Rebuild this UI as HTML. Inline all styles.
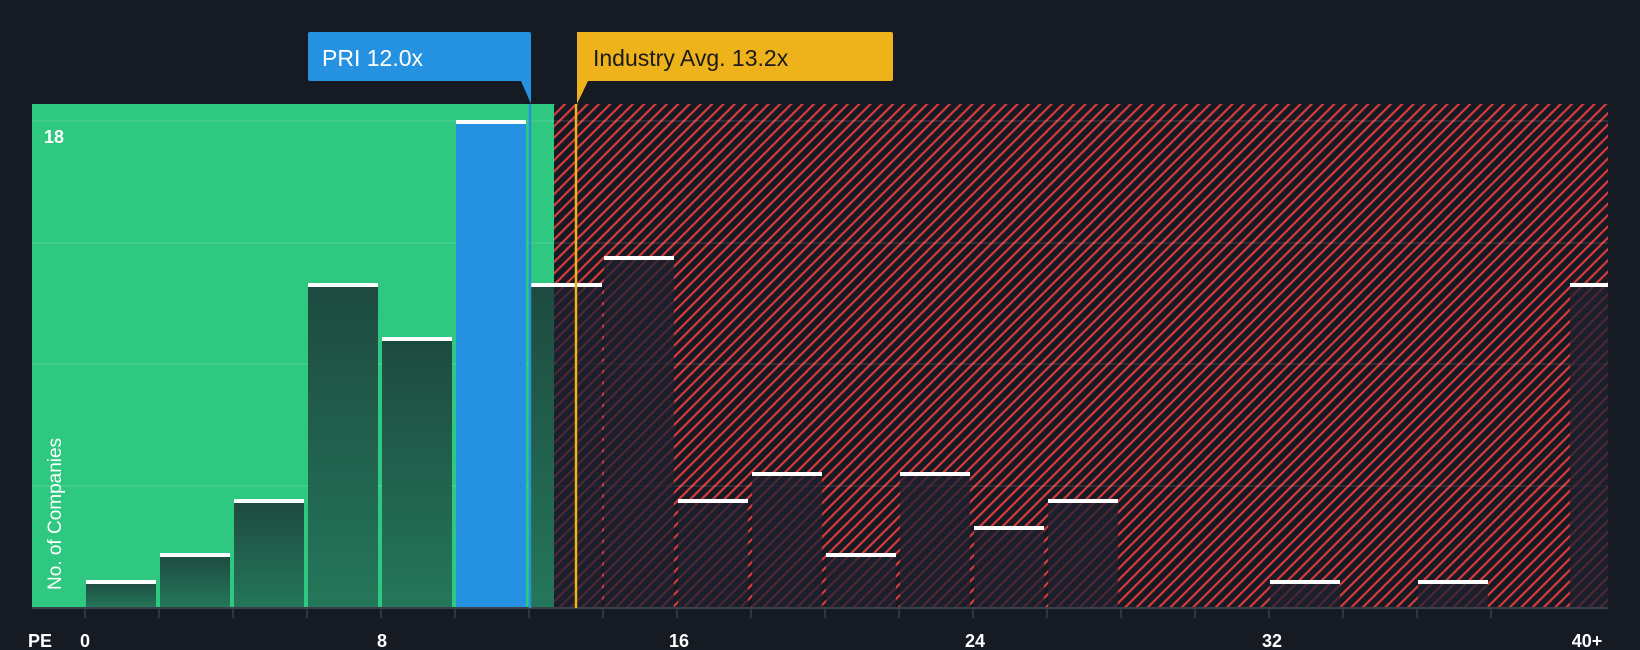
<!DOCTYPE html>
<html><head><meta charset="utf-8"><style>
html,body{margin:0;padding:0;background:#151a23;}
svg{display:block;}
text{font-family:"Liberation Sans",sans-serif;}
</style></head><body>
<svg width="1640" height="650" viewBox="0 0 1640 650" xmlns="http://www.w3.org/2000/svg">
<defs>
<pattern id="hatch" patternUnits="userSpaceOnUse" width="8" height="8" patternTransform="rotate(45)">
<rect width="8" height="8" fill="#151a23"/>
<rect x="0" y="0" width="2.2" height="8" fill="#d93a3e"/>
</pattern>
<linearGradient id="gb" x1="0" y1="0" x2="0" y2="1">
<stop offset="0" stop-color="#1e4a40"/><stop offset="1" stop-color="#24775a"/>
</linearGradient>
</defs>
<rect width="1640" height="650" fill="#151a23"/>
<rect x="32" y="104" width="522" height="504" fill="#2ec880"/>
<rect x="554" y="104" width="1054" height="504" fill="url(#hatch)"/>
<g stroke="rgba(255,255,255,0.12)" stroke-width="1.5">
<line x1="32" y1="121" x2="1608" y2="121"/>
<line x1="32" y1="243" x2="1608" y2="243"/>
<line x1="32" y1="364" x2="1608" y2="364"/>
<line x1="32" y1="486" x2="1608" y2="486"/>
</g>
<g id="bars">
<rect x="86" y="581" width="70" height="27" fill="url(#gb)"/>
<rect x="160" y="554" width="70" height="54" fill="url(#gb)"/>
<rect x="234" y="500" width="70" height="108" fill="url(#gb)"/>
<rect x="308" y="284" width="70" height="324" fill="url(#gb)"/>
<rect x="382" y="338" width="70" height="270" fill="url(#gb)"/>
<rect x="456" y="121" width="70" height="487" fill="#2492e0"/>
<rect x="530" y="284" width="24" height="324" fill="url(#gb)"/>
<g fill="rgba(30,34,48,0.75)">
<rect x="554" y="284" width="48" height="324"/>
<rect x="604" y="257" width="70" height="351"/>
<rect x="678" y="500" width="70" height="108"/>
<rect x="752" y="473" width="70" height="135"/>
<rect x="826" y="554" width="70" height="54"/>
<rect x="900" y="473" width="70" height="135"/>
<rect x="974" y="527" width="70" height="81"/>
<rect x="1048" y="500" width="70" height="108"/>
<rect x="1270" y="581" width="70" height="27"/>
<rect x="1418" y="581" width="70" height="27"/>
<rect x="1570" y="284" width="38" height="324"/>
</g>
<g fill="#ffffff">
<rect x="86" y="580" width="70" height="4"/>
<rect x="160" y="553" width="70" height="4"/>
<rect x="234" y="499" width="70" height="4"/>
<rect x="308" y="283" width="70" height="4"/>
<rect x="382" y="337" width="70" height="4"/>
<rect x="456" y="120" width="70" height="4"/>
<rect x="530" y="283" width="72" height="4"/>
<rect x="604" y="256" width="70" height="4"/>
<rect x="678" y="499" width="70" height="4"/>
<rect x="752" y="472" width="70" height="4"/>
<rect x="826" y="553" width="70" height="4"/>
<rect x="900" y="472" width="70" height="4"/>
<rect x="974" y="526" width="70" height="4"/>
<rect x="1048" y="499" width="70" height="4"/>
<rect x="1270" y="580" width="70" height="4"/>
<rect x="1418" y="580" width="70" height="4"/>
<rect x="1570" y="283" width="38" height="4"/>
</g>
</g>
<line x1="32" y1="608" x2="1608" y2="608" stroke="#3a404a" stroke-width="2"/>
<g stroke="#3a404a" stroke-width="1.5">
<line x1="85" y1="608" x2="85" y2="618"/><line x1="159" y1="608" x2="159" y2="618"/>
<line x1="233" y1="608" x2="233" y2="618"/><line x1="307" y1="608" x2="307" y2="618"/>
<line x1="381" y1="608" x2="381" y2="618"/><line x1="455" y1="608" x2="455" y2="618"/>
<line x1="529" y1="608" x2="529" y2="618"/><line x1="603" y1="608" x2="603" y2="618"/>
<line x1="677" y1="608" x2="677" y2="618"/><line x1="751" y1="608" x2="751" y2="618"/>
<line x1="825" y1="608" x2="825" y2="618"/><line x1="899" y1="608" x2="899" y2="618"/>
<line x1="973" y1="608" x2="973" y2="618"/><line x1="1047" y1="608" x2="1047" y2="618"/>
<line x1="1121" y1="608" x2="1121" y2="618"/><line x1="1195" y1="608" x2="1195" y2="618"/>
<line x1="1269" y1="608" x2="1269" y2="618"/><line x1="1343" y1="608" x2="1343" y2="618"/>
<line x1="1417" y1="608" x2="1417" y2="618"/><line x1="1491" y1="608" x2="1491" y2="618"/>
</g>
<line x1="530" y1="104" x2="530" y2="608" stroke="#2492e0" stroke-width="2.5"/>
<line x1="576" y1="104" x2="576" y2="608" stroke="#eeb31a" stroke-width="2.5"/>
<path d="M310 32 H529 a2 2 0 0 1 2 2 V104 L521 81 H310 a2 2 0 0 1 -2 -2 V34 a2 2 0 0 1 2 -2Z" fill="#2492e0"/>
<text x="322" y="66" font-size="23" fill="#ffffff">PRI 12.0x</text>
<path d="M577 32 H891 a2 2 0 0 1 2 2 V79 a2 2 0 0 1 -2 2 H588 L577 104 V34 Z" fill="#eeb31a"/>
<text x="593" y="66" font-size="23" fill="#1a1a1a">Industry Avg. 13.2x</text>
<text x="44" y="143" font-size="18" font-weight="bold" fill="#ffffff">18</text>
<text transform="translate(61,590) rotate(-90)" font-size="19" fill="#ffffff">No. of Companies</text>
<g font-size="18" font-weight="bold" fill="#ffffff">
<text x="28" y="647">PE</text>
<text x="85" y="647" text-anchor="middle">0</text>
<text x="382" y="647" text-anchor="middle">8</text>
<text x="679" y="647" text-anchor="middle">16</text>
<text x="975" y="647" text-anchor="middle">24</text>
<text x="1272" y="647" text-anchor="middle">32</text>
<text x="1587" y="647" text-anchor="middle">40+</text>
</g>
</svg>
</body></html>
